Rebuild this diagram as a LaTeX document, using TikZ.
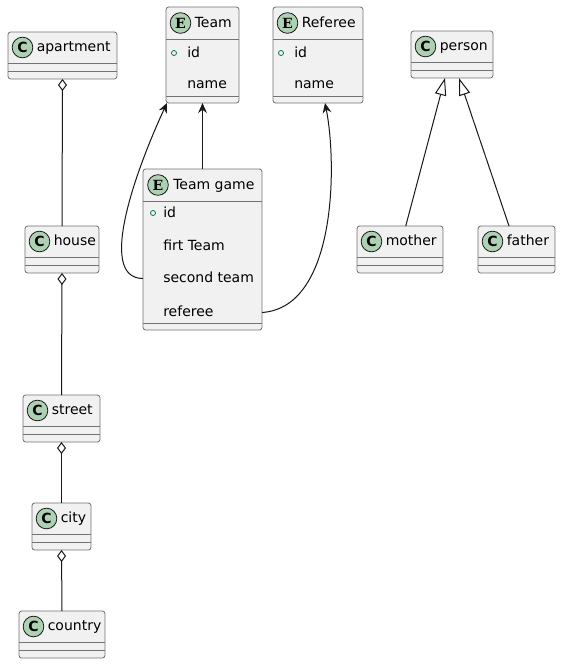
\documentclass[tikz,border=0pt]{standalone}
\usepackage{fontspec}
\setmainfont{DejaVu Sans}
\newfontfamily\spotfont{DejaVu Serif}
\usetikzlibrary{arrows.meta}
\definecolor{boxfill}{HTML}{F1F1F1}
\definecolor{spotfill}{HTML}{ADD1B2}
\definecolor{visgreen}{HTML}{038048}
\definecolor{edgegray}{HTML}{181818}

\begin{document}
\begin{tikzpicture}[
    x=0.75pt, y=-0.75pt,
    font=\fontsize{10.5}{12}\selectfont,
    cls/.style={draw=black!55, line width=0.6pt, fill=boxfill, rounded corners=2pt, anchor=north west, inner sep=0pt, outer sep=0pt, minimum height=35.25pt},
    sep/.style={draw=black!55, line width=0.6pt},
    spot/.style={draw=edgegray, line width=0.6pt, circle, fill=spotfill, minimum size=15.5pt, inner sep=0pt, font=\fontsize{10.5}{10}\selectfont\bfseries},
    espot/.style={spot, font=\fontsize{10.5}{10}\selectfont\spotfont\bfseries},
    ttl/.style={anchor=west, inner sep=0pt, text height=7.5pt, text depth=2pt},
    vis/.style={draw=visgreen, circle, line width=0.6pt, minimum size=3.8pt, inner sep=0pt},
    aggr/.style={draw=edgegray, line width=0.75pt, {Diamond[open, length=9pt, width=6.75pt]}-},
    assoc/.style={draw=edgegray, line width=0.75pt, -{Stealth[length=7.5pt, width=6.5pt, inset=2.5pt]}},
    inh/.style={draw=edgegray, line width=0.75pt, -{Triangle[open, length=13pt, width=8.5pt]}}
  ]
  \path[fill=white, use as bounding box] (0,0) rectangle (561,664);

  % plain classes
  \node[cls, minimum width=81.75pt] (apartment) at (8,32) {};
  \node[cls, minimum width=55.5pt] (house) at (25,226) {};
  \node[cls, minimum width=57.75pt] (street) at (23,395) {};
  \node[cls, minimum width=44.25pt] (city) at (32,503) {};
  \node[cls, minimum width=64.5pt] (country) at (19,611) {};
  \node[cls, minimum width=61.5pt] (person) at (411,31) {};
  \node[cls, minimum width=64.5pt] (mother) at (357,226) {};
  \node[cls, minimum width=57.75pt] (father) at (478,226) {};

  \foreach \c in {apartment,house,street,city,country,person,mother,father}{
    \draw[sep] ([shift={(0,31)}]\c.north west) -- ([shift={(0,31)}]\c.north east);
    \draw[sep] ([shift={(0,39)}]\c.north west) -- ([shift={(0,39)}]\c.north east);
    \node[spot] (\c-spot) at ([shift={(14.5,15.5)}]\c.north west) {C};
    \node[ttl] (\c-name) at ([shift={(28.5,16)}]\c.north west) {\c};
  }

  % entities
  \node[cls, minimum width=54.75pt, minimum height=72pt] (team) at (166,7) {};
  \draw[sep] ([shift={(0,32)}]team.north west) -- ([shift={(0,32)}]team.north east);
  \draw[sep] ([shift={(0,89)}]team.north west) -- ([shift={(0,89)}]team.north east);
  \node[espot] (team-spot) at ([shift={(14.5,16)}]team.north west) {E};
  \node[ttl] (team-name) at ([shift={(28.5,16.5)}]team.north west) {Team};
  \node[vis] (team-vis) at ([shift={(8,46)}]team.north west) {};
  \node[ttl] (team-id) at ([shift={(21,47)}]team.north west) {id};
  \node[ttl] (team-nm) at ([shift={(21,78)}]team.north west) {name};

  \node[cls, minimum width=67.5pt, minimum height=72pt] (referee) at (273,7) {};
  \draw[sep] ([shift={(0,32)}]referee.north west) -- ([shift={(0,32)}]referee.north east);
  \draw[sep] ([shift={(0,89)}]referee.north west) -- ([shift={(0,89)}]referee.north east);
  \node[espot] (referee-spot) at ([shift={(14.5,16)}]referee.north west) {E};
  \node[ttl] (referee-name) at ([shift={(28.5,16.5)}]referee.north west) {Referee};
  \node[vis] (referee-vis) at ([shift={(8,46)}]referee.north west) {};
  \node[ttl] (referee-id) at ([shift={(21,47)}]referee.north west) {id};
  \node[ttl] (referee-nm) at ([shift={(21,78)}]referee.north west) {name};

  \node[cls, minimum width=89.25pt, minimum height=120.75pt] (tg) at (143,169) {};
  \draw[sep] ([shift={(0,32)}]tg.north west) -- ([shift={(0,32)}]tg.north east);
  \draw[sep] ([shift={(0,154)}]tg.north west) -- ([shift={(0,154)}]tg.north east);
  \node[espot] (tg-spot) at ([shift={(15,16)}]tg.north west) {E};
  \node[ttl] (tg-name) at ([shift={(30,16.5)}]tg.north west) {Team game};
  \node[vis] (tg-vis) at ([shift={(10,44)}]tg.north west) {};
  \node[ttl] (tg-id) at ([shift={(20,45)}]tg.north west) {id};
  \node[ttl] (tg-first) at ([shift={(20,77.5)}]tg.north west) {firt Team};
  \node[ttl] (tg-second) at ([shift={(20,109.5)}]tg.north west) {second team};
  \node[ttl] (tg-referee) at ([shift={(20,143.5)}]tg.north west) {referee};

  % connectors
  \draw[aggr] (apartment.south) -- (house.north);
  \draw[aggr] (house.south) -- (street.north);
  \draw[aggr] (street.south) -- (city.north);
  \draw[aggr] (city.south) -- (country.north);

  \draw[assoc] (tg.west |- tg-second) .. controls +(-48,0) and +(-28,60) .. ([xshift=0.75pt]team.south west);
  \draw[assoc] (tg.north) -- (team.south);
  \draw[assoc] (tg.east |- tg-referee) .. controls +(75,-5) and +(12,60) .. ([xshift=5.25pt]referee.south);

  \draw[inh] ([xshift=4.3pt]mother.north) -- ([xshift=-5.25pt]person.south);
  \draw[inh] ([xshift=-5.6pt]father.north) -- ([xshift=5.25pt]person.south);
\end{tikzpicture}
\end{document}
